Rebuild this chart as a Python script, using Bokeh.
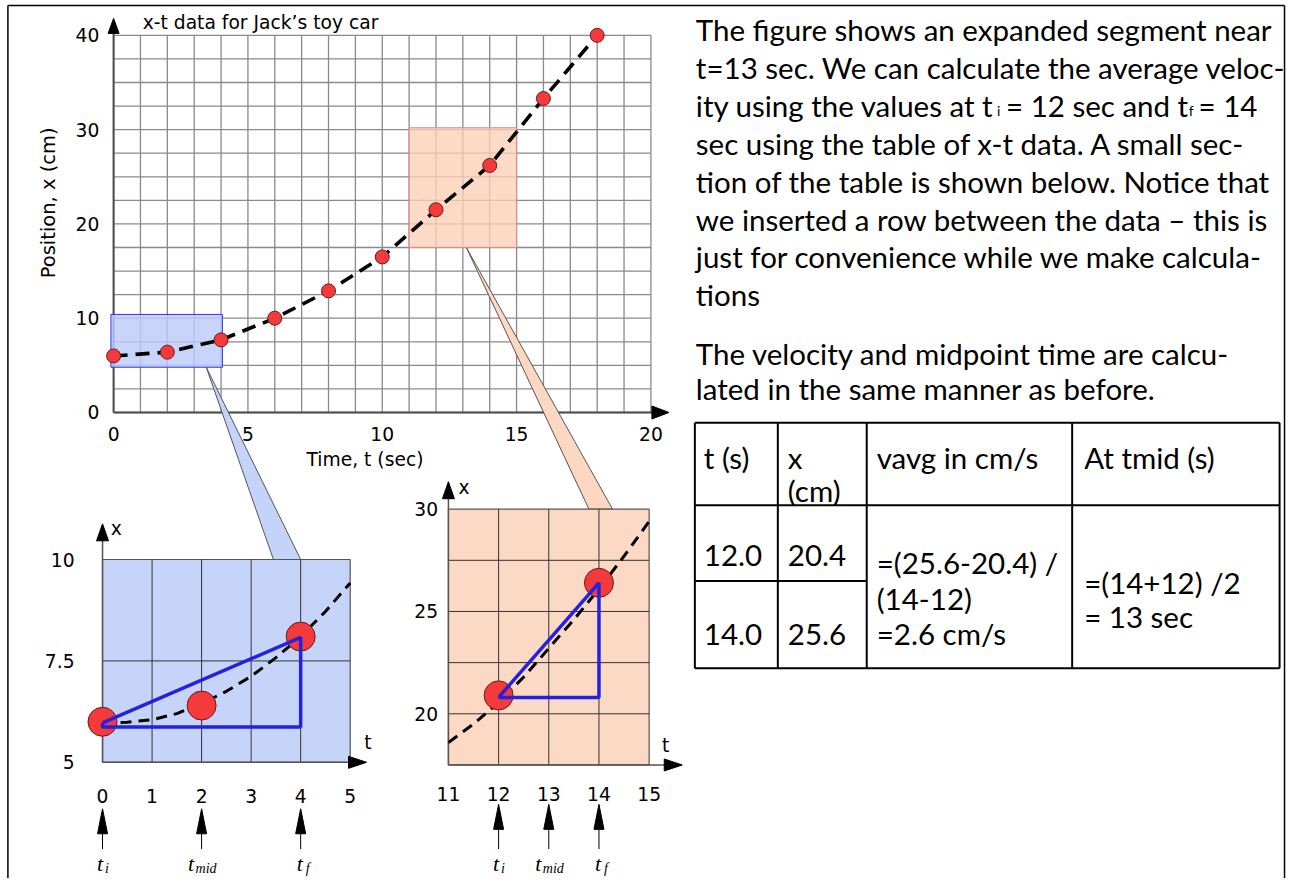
import numpy as np
from bokeh.plotting import figure
from bokeh.models import Range1d
from bokeh.core.properties import value
from bokeh.embed import file_html
from bokeh.resources import INLINE

# ---------------- data ----------------
t_main = [0, 2, 4, 6, 8, 10, 12, 14, 16, 18]
x_main = [6.0, 6.4, 7.7, 10.0, 12.9, 16.5, 21.5, 26.2, 33.3, 40.0]
main_t_ticks = [0, 5, 10, 15, 20]
main_x_ticks = [0, 10, 20, 30, 40]
main_title = "x-t data for Jack\u2019s toy car"
main_xlabel = "Time, t (sec)"
main_ylabel = "Position, x (cm)"

box1 = [-0.1, 4.05, 4.8, 10.4]    # t0, t1, x0, x1 (blue zoom region)
box2 = [11.0, 15.0, 17.5, 30.2]   # orange zoom region

in1_t = [0, 2, 4]
in1_x = [6.0, 6.4, 8.1]
in1_curve_t = [0, 0.5, 1, 1.5, 2, 2.5, 3, 3.5, 4, 4.5, 5]
in1_curve_x = [5.97, 5.99, 6.05, 6.2, 6.45, 6.75, 7.12, 7.58, 8.1, 8.72, 9.42]
in1_tri_t = [0, 4, 4, 0, 0]
in1_tri_x = [5.97, 8.08, 5.87, 5.87, 5.97]
in1_t_ticks = [0, 1, 2, 3, 4, 5]
in1_x_ticks = [5, 7.5, 10]
in1_x_tick_labels = ["5", "7.5", "10"]
in1_marks = [0, 2, 4]

in2_t = [12, 14]
in2_x = [20.9, 26.4]
in2_curve_t = [11, 11.5, 12, 12.5, 13, 13.5, 14, 14.5, 15]
in2_curve_x = [18.6, 19.5, 20.55, 21.8, 23.2, 24.6, 26.1, 27.7, 29.4]
in2_tri_t = [12, 14, 14, 12]
in2_tri_x = [20.8, 26.4, 20.8, 20.8]
in2_t_ticks = [11, 12, 13, 14, 15]
in2_x_ticks = [20, 25, 30]
in2_x_tick_labels = ["20", "25", "30"]
in2_marks = [12, 13, 14]
mark_subs = ["i", "mid", "f"]

para1 = [
    "The figure shows an expanded segment near",
    "t=13 sec. We can calculate the average veloc-",
    None,
    "sec using the table of x-t data. A small sec-",
    "tion of the table is shown below. Notice that",
    "we inserted a row between the data \u2013 this is",
    "just for convenience while we make calcula-",
    "tions",
]
para1_line3 = ["ity using the values at t", "i", "= 12 sec and t", "f", "= 14"]
para2 = ["The velocity and midpoint time are calcu-",
         "lated in the same manner as before."]

table_header = [["t (s)"], ["x", "(cm)"], ["vavg in cm/s"], ["At tmid (s)"]]
table_t = ["12.0", "14.0"]
table_x = ["20.4", "25.6"]
table_v = ["=(25.6-20.4) /", "(14-12)", "=2.6 cm/s"]
table_m = ["=(14+12) /2", "= 13 sec"]

# ---------------- layout ----------------
W, H = 1286, 878
REF_W, REF_H = 1302, 894
SX, SY = W / REF_W, H / REF_H      # reference-page pixels -> canvas pixels


def C(xi, yi):
    return xi * SX, yi * SY


def lay(px0, sx, py0, sy, t0, x0):
    return dict(px0=px0 * SX, sx=sx * SX, py0=py0 * SY, sy=sy * SY, t0=t0, x0=x0)


MAIN = lay(114.5, 27.2, 419.5, 9.6, 0.0, 0.0)
IN1 = lay(103.3, 50.15, 775.7, 41.3, 0.0, 5.0)
IN2 = lay(453.5, 50.8, 726.3, 20.84, 11.0, 20.0)


def px(L, t, x):
    return L["px0"] + (t - L["t0"]) * L["sx"], L["py0"] - (x - L["x0"]) * L["sy"]


def xr(L):
    return Range1d(L["t0"] - L["px0"] / L["sx"], L["t0"] + (W - L["px0"]) / L["sx"])


def yr(L):
    return Range1d(L["x0"] - (H - L["py0"]) / L["sy"], L["x0"] + L["py0"] / L["sy"])


p = figure(width=W, height=H, x_range=Range1d(0, W), y_range=Range1d(H, 0),
           toolbar_location=None, output_backend="svg",
           x_axis_location=None, y_axis_location=None, min_border=0,
           outline_line_color=None, background_fill_color="white")
p.grid.visible = False
p.extra_x_ranges = {"mt": xr(MAIN), "i1t": xr(IN1), "i2t": xr(IN2)}
p.extra_y_ranges = {"mx": yr(MAIN), "i1x": yr(IN1), "i2x": yr(IN2)}

M = dict(x_range_name="mt", y_range_name="mx")
A = dict(x_range_name="i1t", y_range_name="i1x")
B = dict(x_range_name="i2t", y_range_name="i2x")

CH = value("DejaVu Sans")
TX = value("Lato")
SERIF = value("Liberation Serif")
CH_SIZE = "18.7px"
TX_SIZE = "29.5px"


def up_head(x, ytip, L, w):
    return [x, x - w / 2, x + w / 2], [ytip, ytip + L, ytip + L]


def right_head(xtip, y, L, w):
    return [xtip, xtip - L, xtip - L], [y, y - w / 2, y + w / 2]


# page border
bl = C(7.5, 5.0)
br = C(1300.0, 894.0)
p.segment(x0=[bl[0], bl[0], br[0]], y0=[bl[1], bl[1], bl[1]], x1=[bl[0], br[0], br[0]], y1=[H, bl[1], H],
          line_color="black", line_width=1.5)

# ---------------- main chart ----------------
gt = np.arange(0, 21)
gx = np.arange(0, 40.01, 2.5)
p.segment(x0=gt, y0=0, x1=gt, y1=40, line_color="#8a8a8a", line_width=1.3, **M)
p.segment(x0=0, y0=gx, x1=20, y1=gx, line_color="#8a8a8a", line_width=1.3, **M)

heads_x, heads_y = [], []
ax0 = px(MAIN, 0, 0)
ytip = px(MAIN, 0, 41.8)
xtip = px(MAIN, 20.67, 0)
p.segment(x0=[ax0[0], ax0[0]], y0=[ax0[1], ax0[1]], x1=[ytip[0], xtip[0] - 15], y1=[ytip[1] + 13, xtip[1]],
          line_color="#4d4d4d", line_width=2)
hx, hy = up_head(ytip[0], ytip[1], 15, 11); heads_x.append(hx); heads_y.append(hy)
hx, hy = right_head(xtip[0], xtip[1], 17, 13); heads_x.append(hx); heads_y.append(hy)

# callout wedges (from the zoom regions on the main chart to the insets)
a1 = px(MAIN, 3.45, box1[2]); b1 = px(IN1, 3.45, 10); c1 = px(IN1, 4.0, 10)
p.patch([a1[0], b1[0], c1[0]], [a1[1], b1[1], c1[1]], fill_color="#c5d3f8", line_color="#555555", line_width=1)
a2 = px(MAIN, 13.13, box2[2]); b2 = px(IN2, 13.8, 30); c2 = px(IN2, 14.27, 30)
p.patch([a2[0], b2[0], c2[0]], [a2[1], b2[1], c2[1]], fill_color="#fcd8c2", line_color="#555555", line_width=1)

p.quad(left=box1[0], right=box1[1], bottom=box1[2], top=box1[3], fill_color="#bccbf8", fill_alpha=0.82,
       line_color="#3333ff", line_width=1, **M)
p.quad(left=box2[0], right=box2[1], bottom=box2[2], top=box2[3], fill_color="#fcd0b6", fill_alpha=0.78,
       line_color="#e08888", line_width=1, **M)

p.line(t_main, x_main, line_color="black", line_width=3.6, line_dash="14 8", **M)
p.scatter(t_main, x_main, size=14, fill_color="#f43a3a", line_color="#6b1a1a", line_width=1, **M)

p.text(x=main_t_ticks, y=[C(0, 441.7)[1]] * len(main_t_ticks), text=[str(v) for v in main_t_ticks],
       x_range_name="mt", text_font=CH, text_font_size=CH_SIZE, text_align="center",
       text_baseline="middle", text_color="black")
p.text(x=[C(100, 0)[0]] * len(main_x_ticks), y=main_x_ticks, text=[str(v) for v in main_x_ticks],
       y_range_name="mx", text_font=CH, text_font_size=CH_SIZE, text_align="right",
       text_baseline="middle", text_color="black")
tpos = C(144, 22.5)
p.text(x=[tpos[0]], y=[tpos[1]], text=[main_title], text_font=CH, text_font_size=CH_SIZE,
       text_align="left", text_baseline="alphabetic", text_color="black")
xl = C(369, 467)
p.text(x=[xl[0]], y=[xl[1]], text=[main_xlabel], text_font=CH, text_font_size=CH_SIZE,
       text_align="center", text_baseline="middle", text_color="black")
yl = C(49, 206)
p.text(x=[yl[0]], y=[yl[1]], text=[main_ylabel], angle=np.pi / 2, text_font=CH, text_font_size="19.5px",
       text_align="center", text_baseline="middle", text_color="black")


# ---------------- insets ----------------
def inset(R, L, t_rng, x_rng, t_grid, x_grid, fill, curve_t, curve_x, pts_t, pts_x, tri_t, tri_x,
          t_ticks, x_ticks, x_tick_labels, xlab_y, ylab_x, ytip_v, xtip_v, xname_pos, tname_pos):
    p.quad(left=t_rng[0], right=t_rng[1], bottom=x_rng[0], top=x_rng[1], fill_color=fill,
           line_color="#555555", line_width=1.2, **R)
    p.segment(x0=t_grid, y0=x_rng[0], x1=t_grid, y1=x_rng[1], line_color="#333333", line_width=1, **R)
    p.segment(x0=t_rng[0], y0=x_grid, x1=t_rng[1], y1=x_grid, line_color="#333333", line_width=1, **R)
    o = px(L, t_rng[0], x_rng[0])
    yt = px(L, t_rng[0], ytip_v)
    xt = px(L, xtip_v, x_rng[0])
    p.segment(x0=[o[0], o[0]], y0=[o[1], o[1]], x1=[yt[0], xt[0] - 15], y1=[yt[1] + 14, xt[1]],
              line_color="#555555", line_width=1.5)
    hx, hy = up_head(yt[0], yt[1], 17, 12); heads_x.append(hx); heads_y.append(hy)
    hx, hy = right_head(xt[0], xt[1], 18, 12); heads_x.append(hx); heads_y.append(hy)
    p.line(curve_t, curve_x, line_color="black", line_width=3, line_dash="11 7", **R)
    p.scatter(pts_t, pts_x, size=29, fill_color="#f43a3a", line_color="#6b1a1a", line_width=1, **R)
    p.line(tri_t, tri_x, line_color="#2222e0", line_width=3.5, **R)
    p.text(x=t_ticks, y=[C(0, xlab_y)[1]] * len(t_ticks), text=[str(v) for v in t_ticks],
           x_range_name=R["x_range_name"], text_font=CH, text_font_size=CH_SIZE, text_align="center",
           text_baseline="middle", text_color="black")
    p.text(x=[C(ylab_x, 0)[0]] * len(x_ticks), y=x_ticks, text=x_tick_labels, y_range_name=R["y_range_name"],
           text_font=CH, text_font_size=CH_SIZE, text_align="right", text_baseline="middle", text_color="black")
    p.text(x=[xname_pos[0], tname_pos[0]], y=[xname_pos[1], tname_pos[1]], text=["x", "t"],
           text_font=CH, text_font_size=CH_SIZE, text_align="center", text_baseline="middle",
           text_color="black", **R)


inset(A, IN1, (0, 5), (5, 10), [1, 2, 3, 4], [7.5], "#c6d4f9", in1_curve_t, in1_curve_x, in1_t, in1_x,
      in1_tri_t, in1_tri_x, in1_t_ticks, in1_x_ticks, in1_x_tick_labels, 809.5, 75, 10.88, 5.33,
      (0.28, 10.76), (5.36, 5.5))
inset(B, IN2, (11, 15), (17.5, 30), [12, 13, 14], [20, 22.5, 25, 27.5], "#fcd9c4", in2_curve_t, in2_curve_x,
      in2_t, in2_x, in2_tri_t, in2_tri_x, in2_t_ticks, in2_x_ticks, in2_x_tick_labels,
      808.3, 443, 31.34, 15.66, (11.31, 31.08), (15.33, 18.46))

# marker arrows (t_i, t_mid, t_f) below the insets
t_off = [-5.5, -13.5, -4.0]
s_off = [2.5, -6.0, 5.0]
mk_x, mk_y0, mk_y1 = [], [], []
tl_x, tl_y, sl_x, sl_y, sl_txt = [], [], [], [], []
for L, marks, tip_img in ((IN1, in1_marks, 823.0), (IN2, in2_marks, 818.5)):
    tip = C(0, tip_img)[1]
    for k, m in enumerate(marks):
        mx_ = px(L, m, L["x0"])[0]
        mk_x.append(mx_); mk_y0.append(C(0, 864)[1]); mk_y1.append(tip + 20)
        hx, hy = up_head(mx_, tip, 25, 10); heads_x.append(hx); heads_y.append(hy)
        tl_x.append(mx_ + t_off[k]); tl_y.append(863.0)
        sl_x.append(mx_ + s_off[k]); sl_y.append(868.0); sl_txt.append(mark_subs[k])
p.segment(x0=mk_x, y0=mk_y0, x1=mk_x, y1=mk_y1, line_color="black", line_width=1)
p.patches(heads_x, heads_y, fill_color="black", line_color="black", line_width=1)
p.text(x=tl_x, y=tl_y, text=["t"] * len(tl_x), text_font=SERIF, text_font_style="italic",
       text_font_size="22px", text_align="left", text_baseline="alphabetic", text_color="black")
p.text(x=sl_x, y=sl_y, text=sl_txt, text_font=SERIF, text_font_style="italic",
       text_font_size="14px", text_align="left", text_baseline="alphabetic", text_color="black")

# ---------------- paragraph text ----------------
base1 = [30, 68.5, 107, 145.5, 184, 222.5, 261, 299.5]
lines = [s for s in para1 if s is not None]
ys = [C(0, b)[1] for s, b in zip(para1, base1) if s is not None]
p.text(x=[C(704, 0)[0]] * len(lines), y=ys, text=lines, text_font=TX, text_font_size=TX_SIZE,
       text_align="left", text_baseline="alphabetic", text_color="black")
b3 = base1[2]
xs3 = [C(v, 0)[0] for v in (704, 1009, 1018, 1203, 1213)]
ys3 = [C(0, v)[1] for v in (b3, b3 + 5, b3, b3 + 5, b3)]
p.text(x=xs3, y=ys3, text=para1_line3, text_font=TX,
       text_font_size=[TX_SIZE, "14px", TX_SIZE, "14px", TX_SIZE],
       text_align="left", text_baseline="alphabetic", text_color="black")
p.text(x=[C(704, 0)[0]] * 2, y=[C(0, 359.5)[1], C(0, 395.5)[1]], text=para2, text_font=TX,
       text_font_size=TX_SIZE, text_align="left", text_baseline="alphabetic", text_color="black")

# ---------------- table ----------------
col_x = [C(v, 0)[0] for v in (703, 787, 877, 1085, 1295)]
row_y = [C(0, v)[1] for v in (430, 514, 591, 680)]
p.segment(x0=col_x, y0=row_y[0], x1=col_x, y1=row_y[-1], line_color="black", line_width=2)
p.segment(x0=[col_x[0]] * 3, y0=[row_y[0], row_y[1], row_y[3]],
          x1=[col_x[4]] * 3, y1=[row_y[0], row_y[1], row_y[3]], line_color="black", line_width=2)
p.segment(x0=col_x[0], y0=row_y[2], x1=col_x[2], y1=row_y[2], line_color="black", line_width=2)

pad = [9, 10, 10, 12]
tb_x, tb_y, tb_t = [], [], []
for c, cell in enumerate(table_header):
    for k, s in enumerate(cell):
        tb_x.append(col_x[c] + pad[c]); tb_y.append(C(0, 465 + 34 * k)[1]); tb_t.append(s)
for r in range(2):
    tb_x += [col_x[0] + pad[0], col_x[1] + pad[1]]
    tb_y += [C(0, 565.5 + 80 * r)[1]] * 2
    tb_t += [table_t[r], table_x[r]]
for k, s in enumerate(table_v):
    tb_x.append(col_x[2] + pad[2]); tb_y.append(C(0, 572.5 + 36 * k)[1]); tb_t.append(s)
for k, s in enumerate(table_m):
    tb_x.append(col_x[3] + pad[3]); tb_y.append(C(0, 592.5 + 35 * k)[1]); tb_t.append(s)
p.text(x=tb_x, y=tb_y, text=tb_t, text_font=TX, text_font_size=TX_SIZE, text_align="left",
       text_baseline="alphabetic", text_color="black")

open("out.html", "w").write(file_html(p, INLINE))
